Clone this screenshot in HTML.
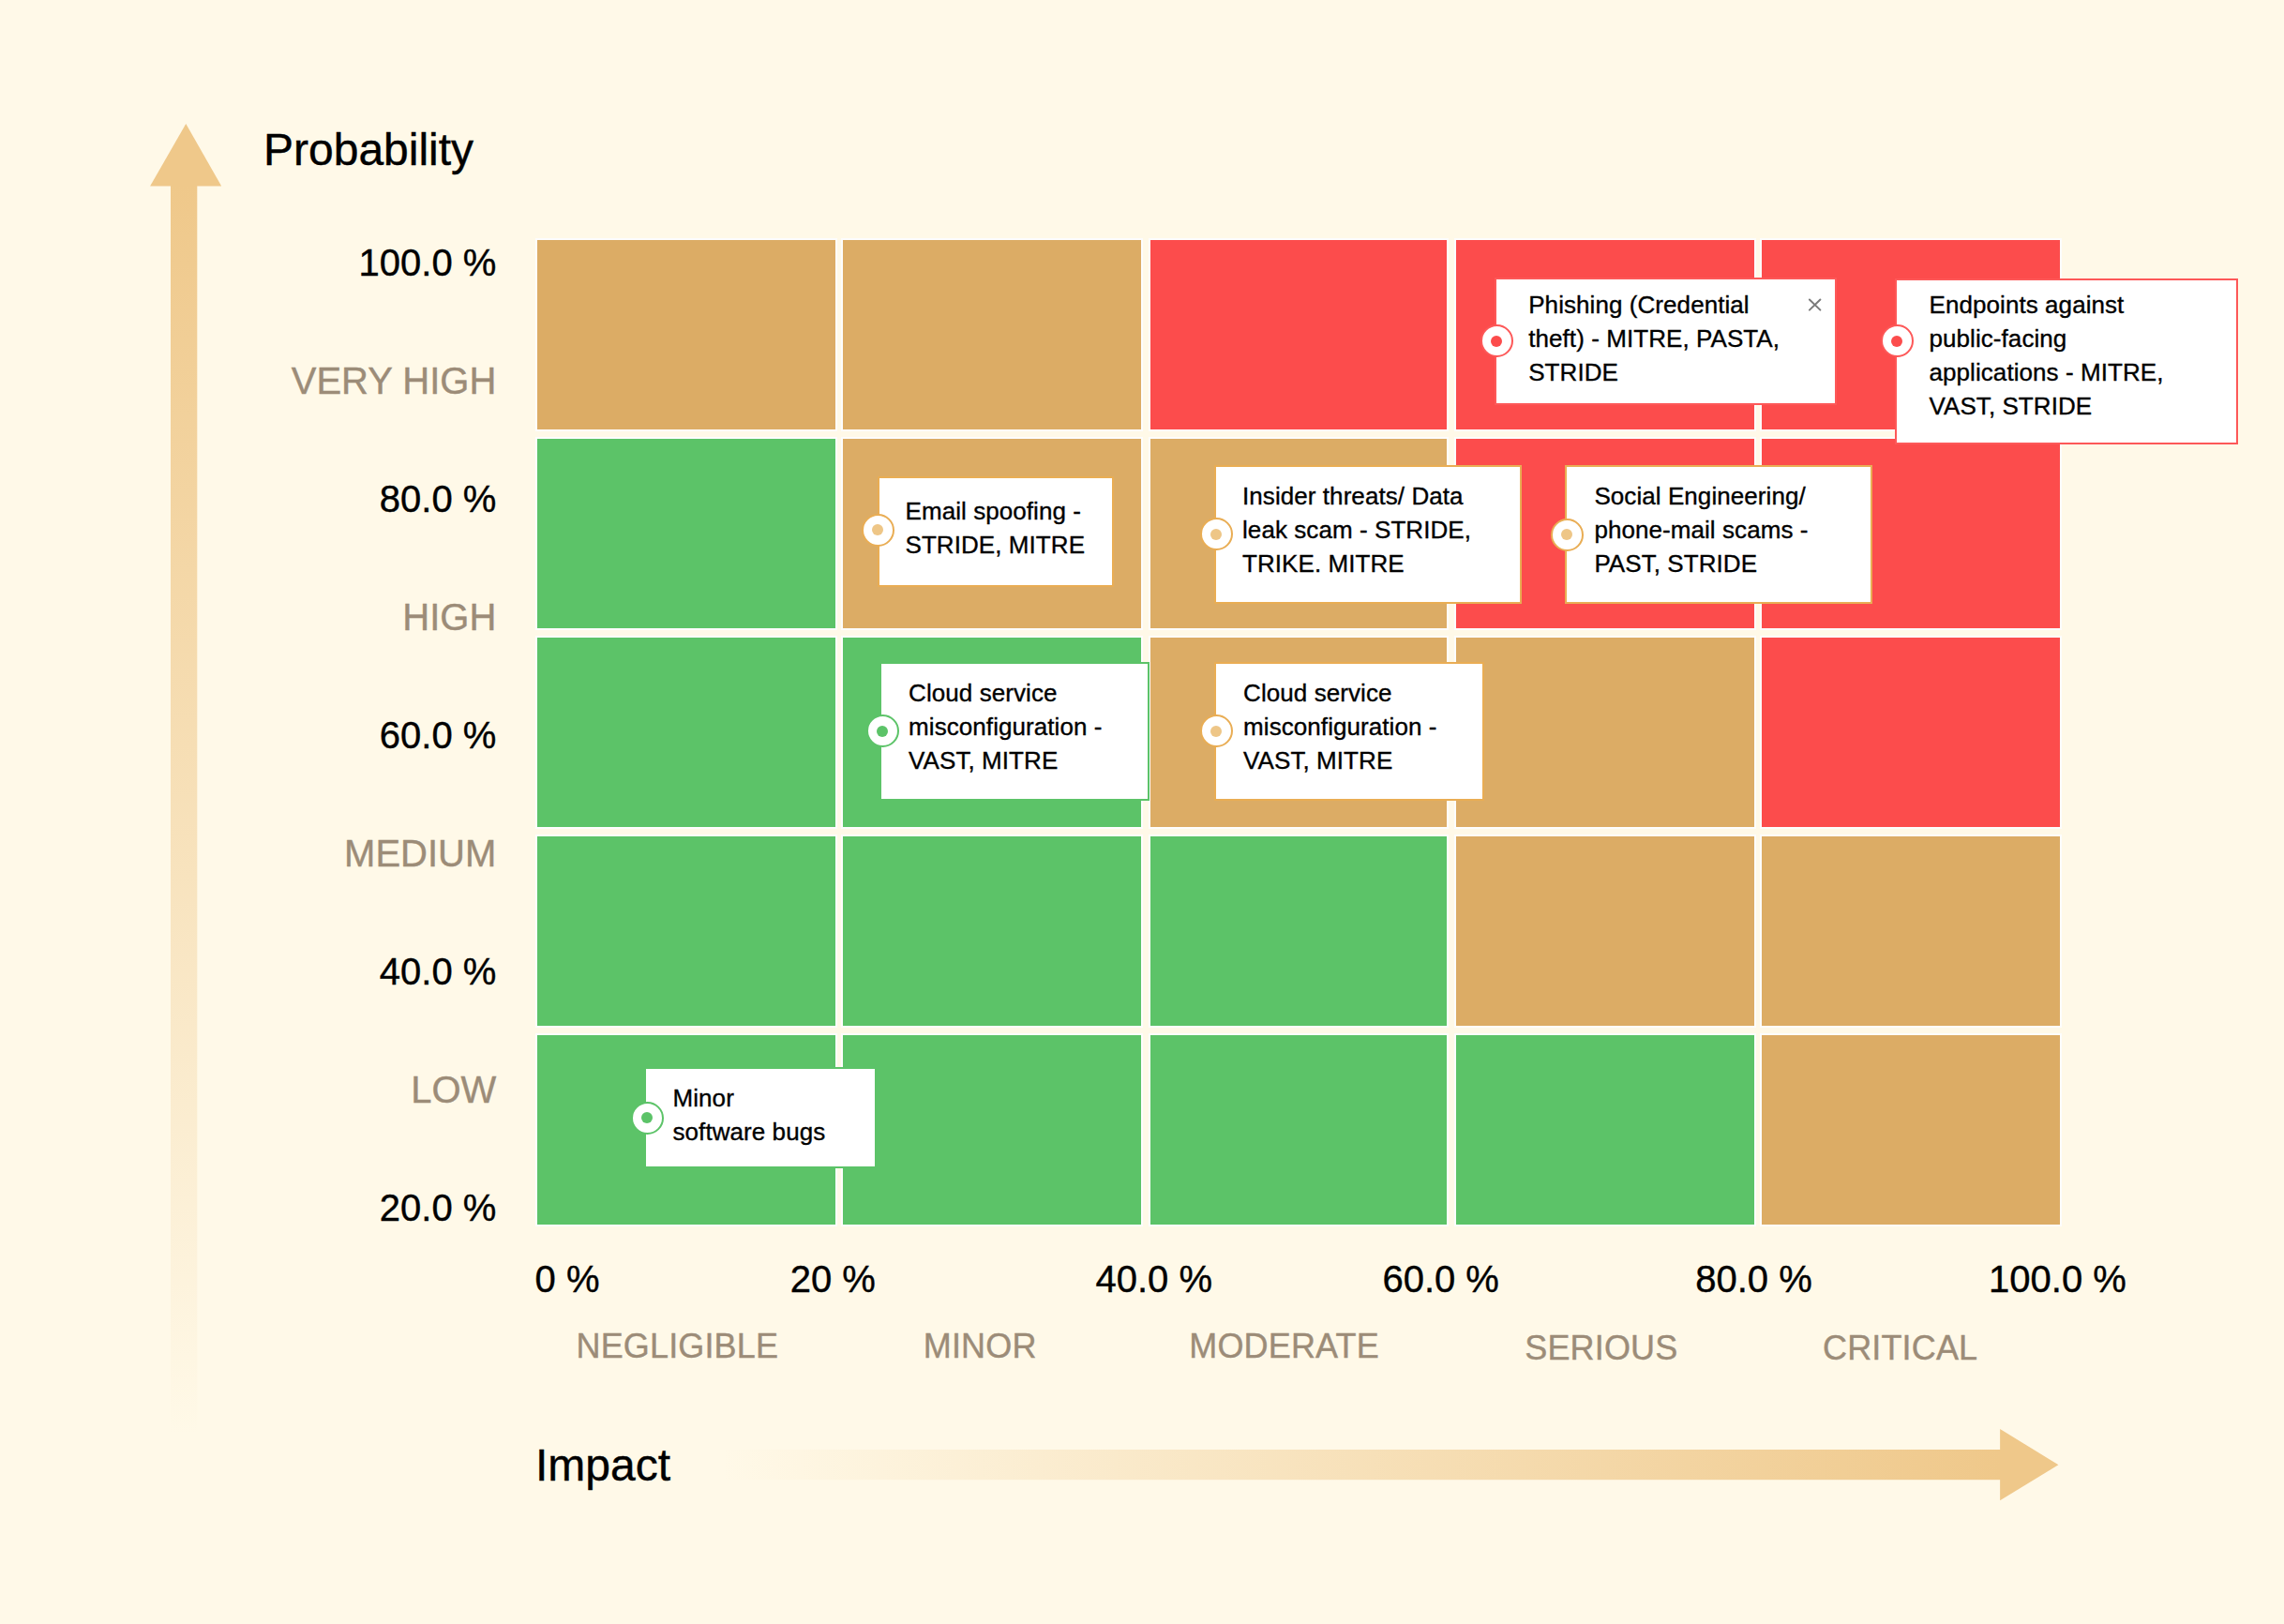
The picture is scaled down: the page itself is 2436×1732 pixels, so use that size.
<!DOCTYPE html>
<html lang="en"><head><meta charset="utf-8"><title>Risk matrix</title>
<style>
html,body{margin:0;padding:0}
body{width:2436px;height:1732px;background:#FFF9E8;position:relative;overflow:hidden;font-family:"Liberation Sans",sans-serif;color:#000}
.c{position:absolute}
.t{position:absolute;white-space:nowrap;-webkit-text-stroke:0.4px currentColor}
.ax{font-size:40px;line-height:40px}
.axl{font-size:40px;line-height:40px;color:#9C8C78;text-align:right}
.cat{font-size:36px;line-height:36px;color:#9C8C78;letter-spacing:0.15px}
.big{font-size:48px;line-height:48px}
.r{text-align:right}
.box{position:absolute;background:#fff;box-sizing:border-box;border:2px solid}
.txt{position:absolute;font-size:26px;line-height:36px;white-space:nowrap;letter-spacing:0.07px;-webkit-text-stroke:0.35px #000}
.mk{position:absolute;width:35px;height:35px;border-radius:50%;background:#fff;box-sizing:border-box;border:2px solid}
.mk i{position:absolute;left:9.5px;top:9.5px;width:12px;height:12px;border-radius:50%}
</style></head><body>
<svg class="c" style="left:0;top:0" width="2436" height="1732" viewBox="0 0 2436 1732">
<defs>
<linearGradient id="gv" x1="0" y1="198" x2="0" y2="1530" gradientUnits="userSpaceOnUse"><stop offset="0" stop-color="#EFC88A" stop-opacity="1"/><stop offset="1" stop-color="#EFC88A" stop-opacity="0"/></linearGradient>
<linearGradient id="gh" x1="2133" y1="0" x2="770" y2="0" gradientUnits="userSpaceOnUse"><stop offset="0" stop-color="#EFC88A" stop-opacity="1"/><stop offset="1" stop-color="#EFC88A" stop-opacity="0"/></linearGradient>
</defs>
<rect x="182" y="198" width="28.3" height="1332" fill="url(#gv)"/>
<polygon points="198.3,132 236.2,198.5 160.1,198.5" fill="#EFC88A"/>
<rect x="770" y="1546" width="1364" height="32.2" fill="url(#gh)"/>
<polygon points="2133.1,1524.1 2195.4,1562.2 2133.1,1600.2" fill="#EFC88A"/>
</svg>
<div class="c" style="left:573px;top:256px;width:318px;height:202px;background:#DCAC65;box-shadow:0 0 0 2px #FDFDFD"></div>
<div class="c" style="left:899px;top:256px;width:318px;height:202px;background:#DCAC65;box-shadow:0 0 0 2px #FDFDFD"></div>
<div class="c" style="left:1227px;top:256px;width:316px;height:202px;background:#FC4C4C;box-shadow:0 0 0 2px #FDFDFD"></div>
<div class="c" style="left:1553px;top:256px;width:318px;height:202px;background:#FC4C4C;box-shadow:0 0 0 2px #FDFDFD"></div>
<div class="c" style="left:1879px;top:256px;width:318px;height:202px;background:#FC4C4C;box-shadow:0 0 0 2px #FDFDFD"></div>
<div class="c" style="left:573px;top:468px;width:318px;height:202px;background:#5CC368;box-shadow:0 0 0 2px #FDFDFD"></div>
<div class="c" style="left:899px;top:468px;width:318px;height:202px;background:#DCAC65;box-shadow:0 0 0 2px #FDFDFD"></div>
<div class="c" style="left:1227px;top:468px;width:316px;height:202px;background:#DCAC65;box-shadow:0 0 0 2px #FDFDFD"></div>
<div class="c" style="left:1553px;top:468px;width:318px;height:202px;background:#FC4C4C;box-shadow:0 0 0 2px #FDFDFD"></div>
<div class="c" style="left:1879px;top:468px;width:318px;height:202px;background:#FC4C4C;box-shadow:0 0 0 2px #FDFDFD"></div>
<div class="c" style="left:573px;top:680px;width:318px;height:202px;background:#5CC368;box-shadow:0 0 0 2px #FDFDFD"></div>
<div class="c" style="left:899px;top:680px;width:318px;height:202px;background:#5CC368;box-shadow:0 0 0 2px #FDFDFD"></div>
<div class="c" style="left:1227px;top:680px;width:316px;height:202px;background:#DCAC65;box-shadow:0 0 0 2px #FDFDFD"></div>
<div class="c" style="left:1553px;top:680px;width:318px;height:202px;background:#DCAC65;box-shadow:0 0 0 2px #FDFDFD"></div>
<div class="c" style="left:1879px;top:680px;width:318px;height:202px;background:#FC4C4C;box-shadow:0 0 0 2px #FDFDFD"></div>
<div class="c" style="left:573px;top:892px;width:318px;height:202px;background:#5CC368;box-shadow:0 0 0 2px #FDFDFD"></div>
<div class="c" style="left:899px;top:892px;width:318px;height:202px;background:#5CC368;box-shadow:0 0 0 2px #FDFDFD"></div>
<div class="c" style="left:1227px;top:892px;width:316px;height:202px;background:#5CC368;box-shadow:0 0 0 2px #FDFDFD"></div>
<div class="c" style="left:1553px;top:892px;width:318px;height:202px;background:#DCAC65;box-shadow:0 0 0 2px #FDFDFD"></div>
<div class="c" style="left:1879px;top:892px;width:318px;height:202px;background:#DCAC65;box-shadow:0 0 0 2px #FDFDFD"></div>
<div class="c" style="left:573px;top:1104px;width:318px;height:202px;background:#5CC368;box-shadow:0 0 0 2px #FDFDFD"></div>
<div class="c" style="left:899px;top:1104px;width:318px;height:202px;background:#5CC368;box-shadow:0 0 0 2px #FDFDFD"></div>
<div class="c" style="left:1227px;top:1104px;width:316px;height:202px;background:#5CC368;box-shadow:0 0 0 2px #FDFDFD"></div>
<div class="c" style="left:1553px;top:1104px;width:318px;height:202px;background:#5CC368;box-shadow:0 0 0 2px #FDFDFD"></div>
<div class="c" style="left:1879px;top:1104px;width:318px;height:202px;background:#DCAC65;box-shadow:0 0 0 2px #FDFDFD"></div>
<div class="t big" style="left:281px;top:136.1px">Probability</div>
<div class="t big" style="left:571px;top:1539.0px">Impact</div>
<div class="t ax r" style="right:1906.7px;top:259.8px">100.0 %</div>
<div class="t axl" style="right:1906.7px;top:385.8px">VERY HIGH</div>
<div class="t ax r" style="right:1906.7px;top:511.8px">80.0 %</div>
<div class="t axl" style="right:1906.7px;top:637.8px">HIGH</div>
<div class="t ax r" style="right:1906.7px;top:763.8px">60.0 %</div>
<div class="t axl" style="right:1906.7px;top:889.8px">MEDIUM</div>
<div class="t ax r" style="right:1906.7px;top:1015.8px">40.0 %</div>
<div class="t axl" style="right:1906.7px;top:1141.8px">LOW</div>
<div class="t ax r" style="right:1906.7px;top:1267.8px">20.0 %</div>
<div class="t ax" style="left:570.6px;top:1344.4px">0 %</div>
<div class="t ax" style="left:842.7px;top:1344.4px">20 %</div>
<div class="t ax" style="left:1168.5px;top:1344.4px">40.0 %</div>
<div class="t ax" style="left:1474.4px;top:1344.4px">60.0 %</div>
<div class="t ax" style="left:1808.2px;top:1344.4px">80.0 %</div>
<div class="t ax" style="left:2121.1px;top:1344.4px">100.0 %</div>
<div class="t cat" style="left:614.5px;top:1417.9px">NEGLIGIBLE</div>
<div class="t cat" style="left:984.8px;top:1417.9px">MINOR</div>
<div class="t cat" style="left:1268.3px;top:1417.9px">MODERATE</div>
<div class="t cat" style="left:1626.3px;top:1419.6px">SERIOUS</div>
<div class="t cat" style="left:1944.0px;top:1419.6px">CRITICAL</div>
<div class="box" style="left:1594px;top:296px;width:365px;height:136px;border-color:#FD5858"></div>
<div class="mk" style="left:1578.5px;top:346.0px;border-color:#FD5858"><i style="background:#FC4C4C"></i></div>
<div class="txt" style="left:1630.2px;top:306.6px">Phishing (Credential<br>theft) - MITRE, PASTA,<br>STRIDE</div>
<svg class="c" style="left:1926px;top:316px" width="20" height="20" viewBox="0 0 20 20"><path d="M3.9 3.5 L15.4 14.6 M15.4 3.5 L3.9 14.6" stroke="#7a7a7a" stroke-width="2" stroke-linecap="round" fill="none"/></svg>
<div class="box" style="left:2021px;top:296.5px;width:366px;height:177.0px;border-color:#FD5858"></div>
<div class="mk" style="left:2005.9px;top:346.1px;border-color:#FD5858"><i style="background:#FC4C4C"></i></div>
<div class="txt" style="left:2057.5px;top:306.5px">Endpoints against<br>public-facing<br>applications - MITRE,<br>VAST, STRIDE</div>
<div class="box" style="left:936px;top:508px;width:252px;height:118px;border-color:#E9AD54"></div>
<div class="mk" style="left:918.8px;top:547.9px;border-color:#E9AD54"><i style="background:#EEC687"></i></div>
<div class="txt" style="left:965.5px;top:527.2px">Email spoofing -<br>STRIDE, MITRE</div>
<div class="box" style="left:1295px;top:496px;width:328px;height:148px;border-color:#E9AD54"></div>
<div class="mk" style="left:1279.9px;top:552.3px;border-color:#E9AD54"><i style="background:#EEC687"></i></div>
<div class="txt" style="left:1325.0px;top:511.2px">Insider threats/ Data<br>leak scam - STRIDE,<br>TRIKE. MITRE</div>
<div class="box" style="left:1669px;top:496px;width:328px;height:148px;border-color:#E9AD54"></div>
<div class="mk" style="left:1653.7px;top:552.5px;border-color:#E9AD54"><i style="background:#EEC687"></i></div>
<div class="txt" style="left:1700.4px;top:511.2px">Social Engineering/<br>phone-mail scams -<br>PAST, STRIDE</div>
<div class="box" style="left:938px;top:706px;width:288px;height:148px;border-color:#5CC368"></div>
<div class="mk" style="left:923.7px;top:762.4px;border-color:#5CC368"><i style="background:#5CC368"></i></div>
<div class="txt" style="left:969.1px;top:721.2px">Cloud service<br>misconfiguration -<br>VAST, MITRE</div>
<div class="box" style="left:1295px;top:706px;width:288px;height:148px;border-color:#E9AD54"></div>
<div class="mk" style="left:1279.9px;top:762.3px;border-color:#E9AD54"><i style="background:#EEC687"></i></div>
<div class="txt" style="left:1326.1px;top:721.2px">Cloud service<br>misconfiguration -<br>VAST, MITRE</div>
<div class="box" style="left:687px;top:1138px;width:248px;height:108px;border-color:#5CC368"></div>
<div class="mk" style="left:672.6px;top:1174.5px;border-color:#5CC368"><i style="background:#5CC368"></i></div>
<div class="txt" style="left:717.5px;top:1152.8px">Minor<br>software bugs</div>
</body></html>
